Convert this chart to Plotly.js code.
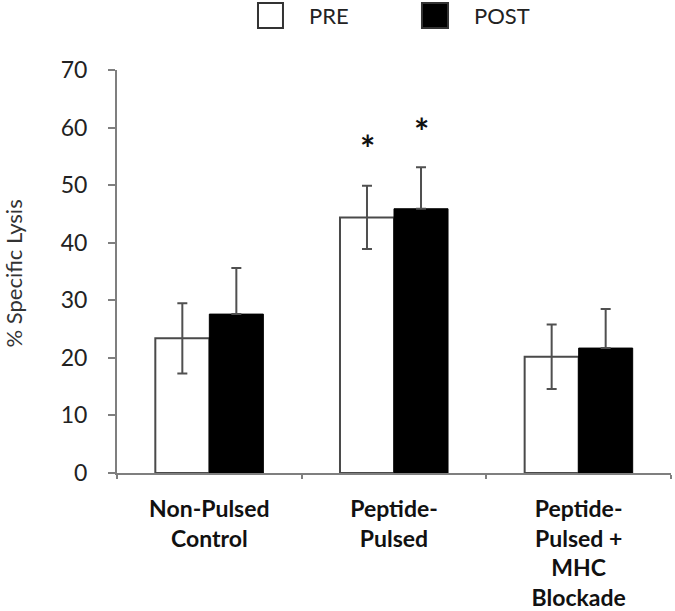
<!DOCTYPE html>
<html>
<head>
<meta charset="utf-8">
<script src="https://cdn.plot.ly/plotly-3.0.1.min.js"></script>
<style>html,body{margin:0;padding:0;background:#fff;}#chart{width:675px;height:611px;}</style>
</head>
<body>
<div id="chart"></div>
<script>
// ---- data ----
const categories = ["Non-Pulsed<br>Control", "Peptide-<br>Pulsed", "Peptide-<br>Pulsed +<br>MHC<br>Blockade"];
const seriesNames = ["PRE", "POST"];
const preValues = [23.4, 44.4, 20.2];
const preErrors = [6.1, 5.5, 5.6];
const postValues = [27.6, 45.9, 21.7];
const postErrors = [8.0, 7.2, 6.8];
const sigCategory = "Peptide-<br>Pulsed";
const sigPre = 58;
const sigPost = 61;
const yTitle = "% Specific Lysis";
const yTickVals = [0, 10, 20, 30, 40, 50, 60, 70];

const FONT = "Lato, 'Open Sans', 'Liberation Sans', sans-serif";
const AXIS_GRAY = "#7f7f7f";

const traces = [
  {
    type: "bar", name: seriesNames[0], x: categories, y: preValues,
    marker: {color: "#ffffff", line: {color: "#4a4a4a", width: 2}},
    error_y: {type: "data", array: preErrors, visible: true, color: "#505050", thickness: 2, width: 5},
    showlegend: false
  },
  {
    type: "bar", name: seriesNames[1], x: categories, y: postValues,
    marker: {color: "#000000", line: {color: "#000000", width: 1}},
    error_y: {type: "data", symmetric: false, array: postErrors, arrayminus: postErrors.map(() => 0),
              visible: true, color: "#505050", thickness: 2, width: 5},
    showlegend: false
  }
];

// legend drawn as shapes + text
const legendSquares = [
  {x0: 0.2545, x1: 0.2996, fill: "#ffffff"},
  {x0: 0.5505, x1: 0.5975, fill: "#000000"}
];
const legendTextX = [0.343, 0.6408];

const shapes = legendSquares.map(s => ({
  type: "rect", xref: "paper", yref: "paper",
  x0: s.x0, x1: s.x1, y0: 1.1042, y1: 1.1663,
  fillcolor: s.fill, line: {color: "#333333", width: 2}
}));

const annotations = [
  {text: seriesNames[0], xref: "paper", yref: "paper", x: legendTextX[0], y: 1.134,
   xanchor: "left", yanchor: "middle", showarrow: false, font: {family: FONT, size: 22, color: "#222"}},
  {text: seriesNames[1], xref: "paper", yref: "paper", x: legendTextX[1], y: 1.134,
   xanchor: "left", yanchor: "middle", showarrow: false, font: {family: FONT, size: 22, color: "#222"}},
  {text: "*", xref: "x", yref: "y", x: sigCategory, y: sigPre, xshift: -27, yshift: -9,
   xanchor: "center", yanchor: "middle", showarrow: false, font: {family: FONT, size: 36, color: "#111", weight: "bold"}},
  {text: "*", xref: "x", yref: "y", x: sigCategory, y: sigPost, xshift: 27, yshift: -9,
   xanchor: "center", yanchor: "middle", showarrow: false, font: {family: FONT, size: 36, color: "#111", weight: "bold"}},
  {text: yTitle, xref: "paper", yref: "paper", x: -0.186, y: 0.495, textangle: -90,
   xanchor: "center", yanchor: "middle", showarrow: false, font: {family: FONT, size: 22, color: "#333"}}
];

const layout = {
  width: 675, height: 611,
  margin: {l: 117, r: 4, t: 70, b: 138},
  paper_bgcolor: "#ffffff", plot_bgcolor: "#ffffff",
  barmode: "group", bargap: 0.415, bargroupgap: 0,
  font: {family: FONT, color: "#222"},
  xaxis: {
    type: "category", showline: true, linecolor: AXIS_GRAY, linewidth: 2,
    ticks: "outside", tickson: "boundaries", ticklen: 4, tickwidth: 2, tickcolor: AXIS_GRAY,
    tickfont: {family: FONT, size: 23, color: "#111", weight: "bold"},
    showgrid: false, zeroline: false, fixedrange: true, ticklabelstandoff: 14
  },
  yaxis: {
    range: [0, 70], tickvals: yTickVals, showline: true, linecolor: AXIS_GRAY, linewidth: 2,
    ticks: "outside", ticklen: 7, tickwidth: 2, tickcolor: AXIS_GRAY,
    tickfont: {family: FONT, size: 23, color: "#222"},
    showgrid: false, zeroline: false, fixedrange: true, ticklabelstandoff: 16
  },
  shapes: shapes,
  annotations: annotations
};

Plotly.newPlot("chart", traces, layout, {displayModeBar: false, staticPlot: true});
</script>
</body>
</html>
